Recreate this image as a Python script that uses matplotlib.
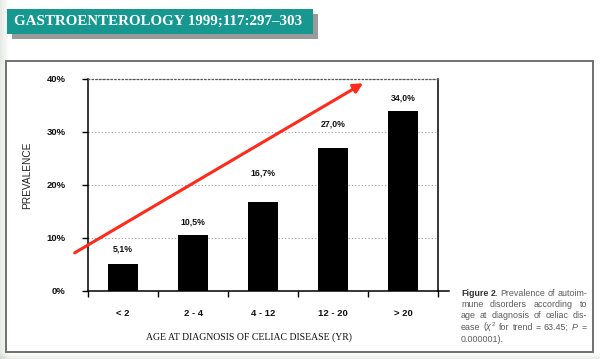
import numpy as np
import matplotlib
matplotlib.use("Agg")
import matplotlib.pyplot as plt
from matplotlib.patches import Rectangle

plt.rcParams["mathtext.fontset"] = "custom"
plt.rcParams["mathtext.rm"] = "Liberation Sans"
plt.rcParams["mathtext.it"] = "Liberation Sans:italic"

# data
age_groups = ["< 2", "2 - 4", "4 - 12", "12 - 20", "> 20"]
prevalence = [5.1, 10.5, 16.7, 27.0, 34.0]
value_labels = ["5,1%", "10,5%", "16,7%", "27,0%", "34,0%"]
y_ticks = [0, 10, 20, 30, 40]
y_tick_labels = ["0%", "10%", "20%", "30%", "40%"]

# label height above each bar (in %), placed by hand in the original
label_offsets = [2.8, 2.6, 5.5, 4.5, 2.5]
# trend arrow (data coords)
arrow_start = (-0.69, 7.2)
arrow_end = (3.43, 39.2)

journal = "GASTROENTEROLOGY 1999;117:297\u2013303"
caption = [
    "Figure 2. Prevalence of autoim-",
    "mune disorders according to",
    "age at diagnosis of celiac dis-",
    r"ease ($\chi^2$ for trend = 63.45; $P$ =",
    "0.000001).",
]

W, H = 600, 359
SANS = "Liberation Sans"
SERIF = "Liberation Serif"


def fx(px):
    return px / W


def fy(py):
    return 1 - py / H


fig = plt.figure(figsize=(6, 3.59), dpi=100)
fig.patch.set_facecolor("white")

# faint page background at the left and bottom edges
bg = fig.add_axes([0, 0, 1, 1], zorder=-10)
gx = np.linspace(0, 1, W)
gy = np.linspace(0, 1, H)
shade = np.clip(1 - gx[None, :] / 0.015, 0, 1) * 0.10 + np.clip((gy[:, None] - 0.985) / 0.015, 0, 1) * 0.08
img = np.ones((H, W, 3))
img -= shade[..., None] * np.array([1.0, 0.85, 1.0])
bg.imshow(img, aspect="auto", extent=(0, 1, 0, 1), origin="upper")
bg.axis("off")

# journal banner with shadow
fig.patches.append(Rectangle((fx(12), fy(39)), fx(306), 25 / H, transform=fig.transFigure,
                             facecolor="#9a9a9a", edgecolor="none", zorder=0))
fig.patches.append(Rectangle((fx(7), fy(34)), fx(306), 25 / H, transform=fig.transFigure,
                             facecolor="#16978f", edgecolor="none", zorder=1))
fig.text(fx(158), fy(21.5), journal, color="white", fontsize=10.8, fontweight="bold",
         family=SERIF, ha="center", va="center", zorder=2)

# frame around the figure
fig.patches.append(Rectangle((fx(6), fy(352)), fx(587), 291 / H, transform=fig.transFigure,
                             facecolor="white", edgecolor="#707070", lw=1.4, zorder=-5))

ax = fig.add_axes([fx(88), fy(291), fx(350), 212 / H])
ax.patch.set_alpha(0)
x = np.arange(len(age_groups))
ax.bar(x, prevalence, width=0.43, color="black", zorder=3)

for xi, v, lab, off in zip(x, prevalence, value_labels, label_offsets):
    ax.text(xi, v + off, lab, ha="center", va="center", fontsize=6.3,
            fontweight="bold", family=SANS, color="#111")

ax.set_xlim(-0.5, 4.5)
ax.set_ylim(0, 40)

ax.set_yticks(y_ticks)
ax.set_yticklabels(y_tick_labels, fontsize=6.8, fontweight="bold", family=SANS, color="#111")
ax.tick_params(axis="y", direction="out", length=4, width=1, pad=12)

ax.set_xticks(x)
ax.set_xticklabels(age_groups, fontsize=6.8, fontweight="bold", family=SANS, color="#111")
ax.set_xticks(np.arange(-0.5, 4.6, 1.0), minor=True)
ax.tick_params(axis="x", which="major", length=0, pad=13)
ax.tick_params(axis="x", which="minor", direction="out", length=4, width=1)

ax.yaxis.grid(True, linestyle=(0, (1, 2)), color="#9a9a9a", lw=0.8)
ax.set_axisbelow(True)
for s in ["left", "right", "bottom"]:
    ax.spines[s].set_color("black")
    ax.spines[s].set_linewidth(1.1)
ax.spines["top"].set_linestyle((0, (1, 2)))
ax.spines["top"].set_color("#555")
ax.spines["top"].set_linewidth(0.9)
ax.axhline(0, xmin=1, xmax=1.03, color="black", lw=1.1, clip_on=False)

ax.annotate("", xy=arrow_end, xytext=arrow_start, annotation_clip=False,
            arrowprops=dict(arrowstyle="-|>,head_length=0.55,head_width=0.28",
                            color="#ff2a1a", lw=2.2, shrinkA=0, shrinkB=0))

fig.text(fx(27), fy(175), "PREVALENCE", rotation=90, ha="center", va="center",
         fontsize=7.3, family=SANS, color="#222")
fig.text(fx(249), fy(337), "AGE AT DIAGNOSIS OF CELIAC DISEASE (YR)", ha="center",
         va="center", fontsize=7, family=SERIF, color="#111")

# caption block, justified like the printed column
cap_left, cap_right = 461, 587
line_y = [293, 304.5, 316, 327.5, 339]
renderer = fig.canvas.get_renderer()
for li, (line, yy) in enumerate(zip(caption, line_y)):
    words = line.split(" ")
    texts = []
    for wi, word in enumerate(words):
        bold = li == 0 and wi < 2
        t = fig.text(0, fy(yy), word, fontsize=6.4, family=SANS, va="center",
                     fontweight="bold" if bold else "normal",
                     color="#333" if bold else "#5a5a5a")
        texts.append(t)
    widths = [t.get_window_extent(renderer).width for t in texts]
    if li < len(caption) - 1:
        gap = max((cap_right - cap_left - sum(widths)) / (len(words) - 1), 1.8)
    else:
        gap = 2.2
    pos = cap_left
    for t, w in zip(texts, widths):
        t.set_x(fx(pos))
        pos += w + gap

fig.savefig("out.png", dpi=100)
